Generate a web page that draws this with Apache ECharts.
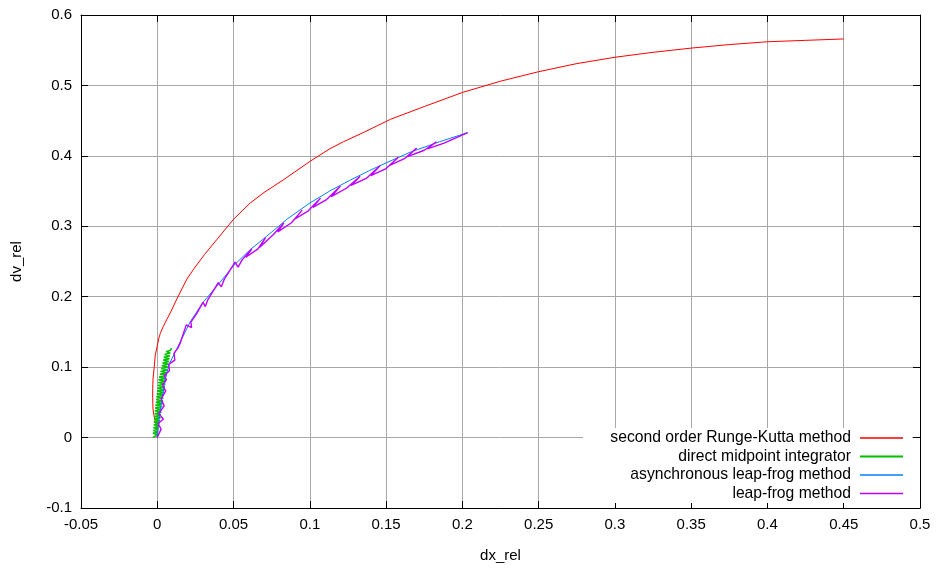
<!DOCTYPE html>
<html>
<head>
<meta charset="utf-8">
<script src="https://cdn.jsdelivr.net/npm/echarts@6/dist/echarts.min.js"></script>
<style>html,body{margin:0;padding:0;background:#fff}#c{width:936px;height:568px}</style>
</head>
<body>
<div id="c"></div>
<script>
// ---- data ----
const seriesNames = ['second order Runge-Kutta method', 'direct midpoint integrator', 'asynchronous leap-frog method', 'leap-frog method'];

const rkX = [0, -0.0002, -0.0018, -0.0028, -0.003, -0.003, -0.0028, -0.002, -0.0013, 0.0, 0.0009, 0.002, 0.004, 0.0063, 0.0085, 0.0129, 0.0194, 0.0238, 0.031, 0.039, 0.05, 0.0609, 0.07, 0.0827, 0.1, 0.113, 0.122, 0.135, 0.153, 0.175, 0.2, 0.225, 0.25, 0.275, 0.3, 0.325, 0.35, 0.375, 0.4, 0.425, 0.45];
const rkY = [0, 0.013, 0.027, 0.04, 0.055, 0.07, 0.083, 0.1, 0.117, 0.13, 0.14, 0.148, 0.158, 0.168, 0.177, 0.197, 0.225, 0.239, 0.26, 0.281, 0.31, 0.333, 0.348, 0.366, 0.392, 0.41, 0.42, 0.433, 0.452, 0.47, 0.49, 0.506, 0.5195, 0.531, 0.54, 0.547, 0.553, 0.558, 0.562, 0.564, 0.566];

const midX = [-0.003, -0.0029, 0.0003, -0.0028, 0.0006, -0.0026, 0.0009, -0.0025, 0.0012, -0.0023, 0.0015, -0.0022, 0.0018, -0.002, 0.0021, -0.0019, 0.0024, -0.0017, 0.0027, -0.0016, 0.003, -0.0014, 0.0033, -0.0012, 0.0035, -0.0009, 0.0038, -0.0007, 0.004, -0.0005, 0.0043, -0.0003, 0.0045, 0.0, 0.0048, 0.0002, 0.005, 0.0004, 0.0053, 0.0006, 0.0055, 0.0008, 0.0058, 0.0012, 0.0061, 0.0017, 0.0064, 0.0021, 0.0067, 0.0026, 0.0071, 0.003, 0.0074, 0.0035, 0.0077, 0.0039, 0.008, 0.0043, 0.0083, 0.0048, 0.0085, 0.0058, 0.0088, 0.0075, 0.0092];
const midY = [0.0, 0.002, 0.004, 0.006, 0.008, 0.010, 0.012, 0.014, 0.016, 0.018, 0.020, 0.022, 0.024, 0.026, 0.028, 0.030, 0.032, 0.034, 0.036, 0.038, 0.040, 0.042, 0.044, 0.046, 0.048, 0.050, 0.052, 0.054, 0.056, 0.058, 0.060, 0.062, 0.064, 0.066, 0.068, 0.070, 0.072, 0.074, 0.076, 0.078, 0.080, 0.082, 0.084, 0.086, 0.088, 0.090, 0.092, 0.094, 0.096, 0.098, 0.100, 0.102, 0.104, 0.106, 0.108, 0.110, 0.112, 0.114, 0.116, 0.118, 0.120, 0.122, 0.124, 0.126, 0.127];

const alfX = [0, 0.0009, 0.003, 0.0052, 0.008, 0.0128, 0.0215, 0.030, 0.041, 0.05, 0.061, 0.0718, 0.085, 0.1, 0.113, 0.126, 0.139, 0.15, 0.1656, 0.185, 0.2035];
const alfY = [0, 0.022, 0.055, 0.083, 0.105, 0.126, 0.164, 0.192, 0.22, 0.244, 0.267, 0.286, 0.31, 0.333, 0.35, 0.365, 0.379, 0.39, 0.405, 0.42, 0.433];

const lfX = [0, 0.0025, 0.0005, 0.004, 0.001, 0.0045, 0.0025, 0.0055, 0.0035, 0.006, 0.0045, 0.008, 0.0075, 0.0115, 0.011, 0.0135, 0.015, 0.019, 0.0225, 0.022, 0.0255, 0.030, 0.0315, 0.033, 0.040, 0.042, 0.044, 0.051, 0.053, 0.0555, 0.062, 0.058, 0.066, 0.071, 0.067, 0.076, 0.083, 0.079, 0.088, 0.095, 0.090, 0.099, 0.107, 0.102, 0.111, 0.120, 0.114, 0.124, 0.133, 0.127, 0.137, 0.146, 0.140, 0.150, 0.158, 0.152, 0.162, 0.170, 0.164, 0.175, 0.183, 0.177, 0.188, 0.2035];
const lfY = [0, 0.012, 0.020, 0.026, 0.034, 0.045, 0.055, 0.066, 0.075, 0.082, 0.088, 0.095, 0.104, 0.110, 0.120, 0.127, 0.134, 0.160, 0.156, 0.164, 0.175, 0.192, 0.186, 0.195, 0.220, 0.214, 0.225, 0.249, 0.242, 0.252, 0.268, 0.256, 0.268, 0.284, 0.270, 0.288, 0.305, 0.292, 0.305, 0.323, 0.310, 0.322, 0.340, 0.327, 0.338, 0.357, 0.342, 0.354, 0.371, 0.358, 0.368, 0.386, 0.372, 0.382, 0.398, 0.386, 0.396, 0.411, 0.399, 0.408, 0.420, 0.410, 0.418, 0.433];

const colors = ['#ff0000', '#00c000', '#0080ff', '#c000ff'];
const widths = [1, 1.5, 1, 1.4];
const legendIconH = [1.5, 2, 1.5, 1.5];

// ---- chart ----
const FONT = '"Liberation Sans", Arial, sans-serif';
const zip = (xs, ys) => xs.map((x, i) => [x, ys[i]]);
const allData = [zip(rkX, rkY), zip(midX, midY), zip(alfX, alfY), zip(lfX, lfY)];
const fmt = v => String(+(+v).toFixed(2));

const axisCommon = {
  type: 'value',
  axisLine: { show: true, onZero: false, lineStyle: { color: '#000', width: 1 } },
  axisTick: { show: true, inside: true, length: 7, lineStyle: { color: '#000', width: 1 } },
};

const chart = echarts.init(document.getElementById('c'), null, { renderer: 'canvas' });
const legendTops = [430, 448.5, 467, 485.5];
chart.setOption({
  animation: false,
  backgroundColor: '#fff',
  textStyle: { fontFamily: FONT },
  grid: { left: 81, right: 16, top: 15, bottom: 57, containLabel: false },
  xAxis: [
    Object.assign({}, axisCommon, {
      min: -0.05, max: 0.5, interval: 0.05, position: 'bottom',
      name: 'dx_rel', nameLocation: 'middle', nameGap: 40,
      nameTextStyle: { fontSize: 15, color: '#000', fontFamily: FONT },
      axisLabel: { fontSize: 15, color: '#000', margin: 9, formatter: fmt, fontFamily: FONT },
      splitLine: { show: true, lineStyle: { color: '#a8a8a8', width: 1 } }
    }),
    Object.assign({}, axisCommon, {
      min: -0.05, max: 0.5, interval: 0.05, position: 'top',
      axisLabel: { show: false }, splitLine: { show: false }
    })
  ],
  yAxis: [
    Object.assign({}, axisCommon, {
      min: -0.1, max: 0.6, interval: 0.1, position: 'left',
      name: 'dv_rel', nameLocation: 'middle', nameGap: 57, nameRotate: 90,
      nameTextStyle: { fontSize: 15, color: '#000', fontFamily: FONT },
      axisLabel: { fontSize: 15, color: '#000', margin: 9, formatter: fmt, fontFamily: FONT },
      splitLine: { show: true, lineStyle: { color: '#a8a8a8', width: 1 } }
    }),
    Object.assign({}, axisCommon, {
      min: -0.1, max: 0.6, interval: 0.1, position: 'right',
      axisLabel: { show: false }, splitLine: { show: false }
    })
  ],
  graphic: [{
    type: 'rect', z: 1, silent: true,
    shape: { x: 583, y: 428, width: 329, height: 75 },
    style: { fill: '#fff' }
  }],
  legend: seriesNames.map((n, i) => ({
    data: [{ name: n, icon: 'rect' }], right: 33, top: legendTops[i], orient: 'vertical', align: 'right',
    padding: 0, itemWidth: 43, itemHeight: legendIconH[i], selectedMode: false,
    textStyle: { fontSize: 15.7, color: '#000', fontFamily: FONT, padding: [0, 4, 0, 0] }
  })),
  series: seriesNames.map((n, i) => ({
    name: n, type: 'line', data: allData[i], showSymbol: false, symbol: 'none',
    xAxisIndex: 0, yAxisIndex: 0, smooth: false,
    lineStyle: { color: colors[i], width: widths[i] },
    itemStyle: { color: colors[i] }
  }))
});
</script>
</body>
</html>
